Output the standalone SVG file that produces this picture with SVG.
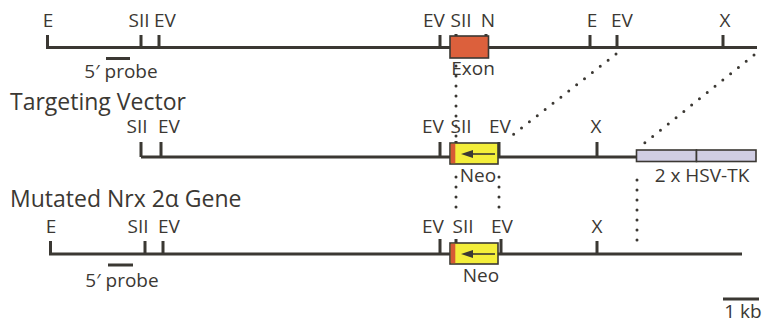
<svg xmlns="http://www.w3.org/2000/svg" width="765" height="324" viewBox="0 0 765 324">
<defs>
<style>
.ln{stroke:#3b3833;stroke-width:3;fill:none}
.tk{stroke:#3b3833;stroke-width:3;fill:none}
.dot{stroke:#3b3833;stroke-width:3;stroke-linecap:round;stroke-dasharray:0 10;fill:none}
.box{stroke:#3b3833;stroke-width:1.6}
.arr{stroke:#3b3833;stroke-width:1.6;fill:none}
text{font-family:"Open Sans","Noto Sans","Liberation Sans",sans-serif;fill:#3b3833}
.lb{font-size:19px;text-anchor:middle}
.tt{font-size:23px}
</style>
<marker id="ah" viewBox="0 0 12 8" refX="1" refY="4" markerWidth="7.5" markerHeight="5" orient="auto" markerUnits="strokeWidth">
<path d="M0,0 L12,4 L0,8 z" fill="#3b3833"/>
</marker>
</defs>
<rect width="765" height="324" fill="#fff"/>

<g id="connectors">
<line class="dot" x1="456" y1="66" x2="456" y2="140"/>
<line class="dot" x1="616" y1="54" x2="510" y2="137"/>
<line class="dot" x1="754" y1="55" x2="642" y2="145"/>
<line class="dot" x1="456" y1="177" x2="456" y2="212"/>
<line class="dot" x1="499" y1="177" x2="499" y2="212"/>
<line class="dot" x1="637" y1="180" x2="637" y2="246"/>
</g>

<g id="wildtype">
<line class="ln" x1="46" y1="47.5" x2="757" y2="47.5"/>
<path class="tk" d="M47.5,35 V47.5 M141,35 V47.5 M159,35 V47.5 M440,35 V47.5 M456,34 V47.5 M486,34 V47.5 M590,35 V47.5 M617,35 V47.5 M723,35 V47.5"/>
<text class="lb" x="48" y="27">E</text>
<text class="lb" x="139" y="27">SII</text>
<text class="lb" x="165" y="27">EV</text>
<text class="lb" x="434" y="27">EV</text>
<text class="lb" x="461" y="27">SII</text>
<text class="lb" x="488" y="27">N</text>
<text class="lb" x="592" y="27">E</text>
<text class="lb" x="622" y="27">EV</text>
<text class="lb" x="725" y="27">X</text>
<line class="ln" x1="106" y1="58.5" x2="130" y2="58.5"/>
<text class="lb" x="121" y="78">5′ probe</text>
</g>

<g id="exon">
<rect class="box" x="450" y="36" width="38.5" height="22" fill="#dc603c"/>
<text class="lb" x="473" y="75">Exon</text>
</g>

<g id="targeting-vector">
<text class="tt" x="10" y="110">Targeting Vector</text>
<line class="ln" x1="141" y1="157" x2="637" y2="157"/>
<path class="tk" d="M141,142 V157 M161,142 V157 M440,142 V157 M456,141 V157 M499,142 V157 M597,142 V157"/>
<text class="lb" x="137" y="133">SII</text>
<text class="lb" x="169" y="133">EV</text>
<text class="lb" x="433" y="133">EV</text>
<text class="lb" x="461" y="133">SII</text>
<text class="lb" x="500" y="133">EV</text>
<text class="lb" x="596" y="133">X</text>
</g>

<g id="neo-vector">
<rect class="box" x="450" y="143" width="48" height="21" fill="#f4ee3a"/>
<rect x="450.8" y="143.8" width="4.5" height="19.4" fill="#d75a35"/>
<line class="arr" x1="495" y1="154" x2="472" y2="154" marker-end="url(#ah)"/>
<text class="lb" x="478" y="182">Neo</text>
</g>

<g id="hsv-tk">
<rect class="box" x="636.5" y="150" width="60" height="11.5" fill="#d0cde3"/>
<rect class="box" x="696.5" y="150" width="59.5" height="11.5" fill="#d0cde3"/>
<text class="lb" x="702" y="182">2 x HSV-TK</text>
</g>

<g id="mutated">
<text class="tt" x="10" y="207">Mutated Nrx 2α Gene</text>
<line class="ln" x1="49" y1="254" x2="742" y2="254"/>
<path class="tk" d="M50.5,241 V254 M145,241 V254 M163,241 V254 M440,239 V254 M456,239 V254 M501,239 V254 M597,241 V254"/>
<text class="lb" x="51" y="233">E</text>
<text class="lb" x="138" y="233">SII</text>
<text class="lb" x="169" y="233">EV</text>
<text class="lb" x="433" y="233">EV</text>
<text class="lb" x="463" y="233">SII</text>
<text class="lb" x="502" y="233">EV</text>
<text class="lb" x="597" y="233">X</text>
<line class="ln" x1="108" y1="265" x2="133" y2="265"/>
<text class="lb" x="122" y="287">5′ probe</text>
</g>

<g id="neo-mutated">
<rect class="box" x="450" y="243" width="48" height="21" fill="#f4ee3a"/>
<rect x="450.8" y="243.8" width="4.5" height="19.4" fill="#d75a35"/>
<line class="arr" x1="495" y1="254" x2="472" y2="254" marker-end="url(#ah)"/>
<text class="lb" x="481" y="282">Neo</text>
</g>

<g id="scale">
<line class="ln" x1="723" y1="299" x2="759" y2="299"/>
<text class="lb" x="743" y="318">1 kb</text>
</g>
</svg>
